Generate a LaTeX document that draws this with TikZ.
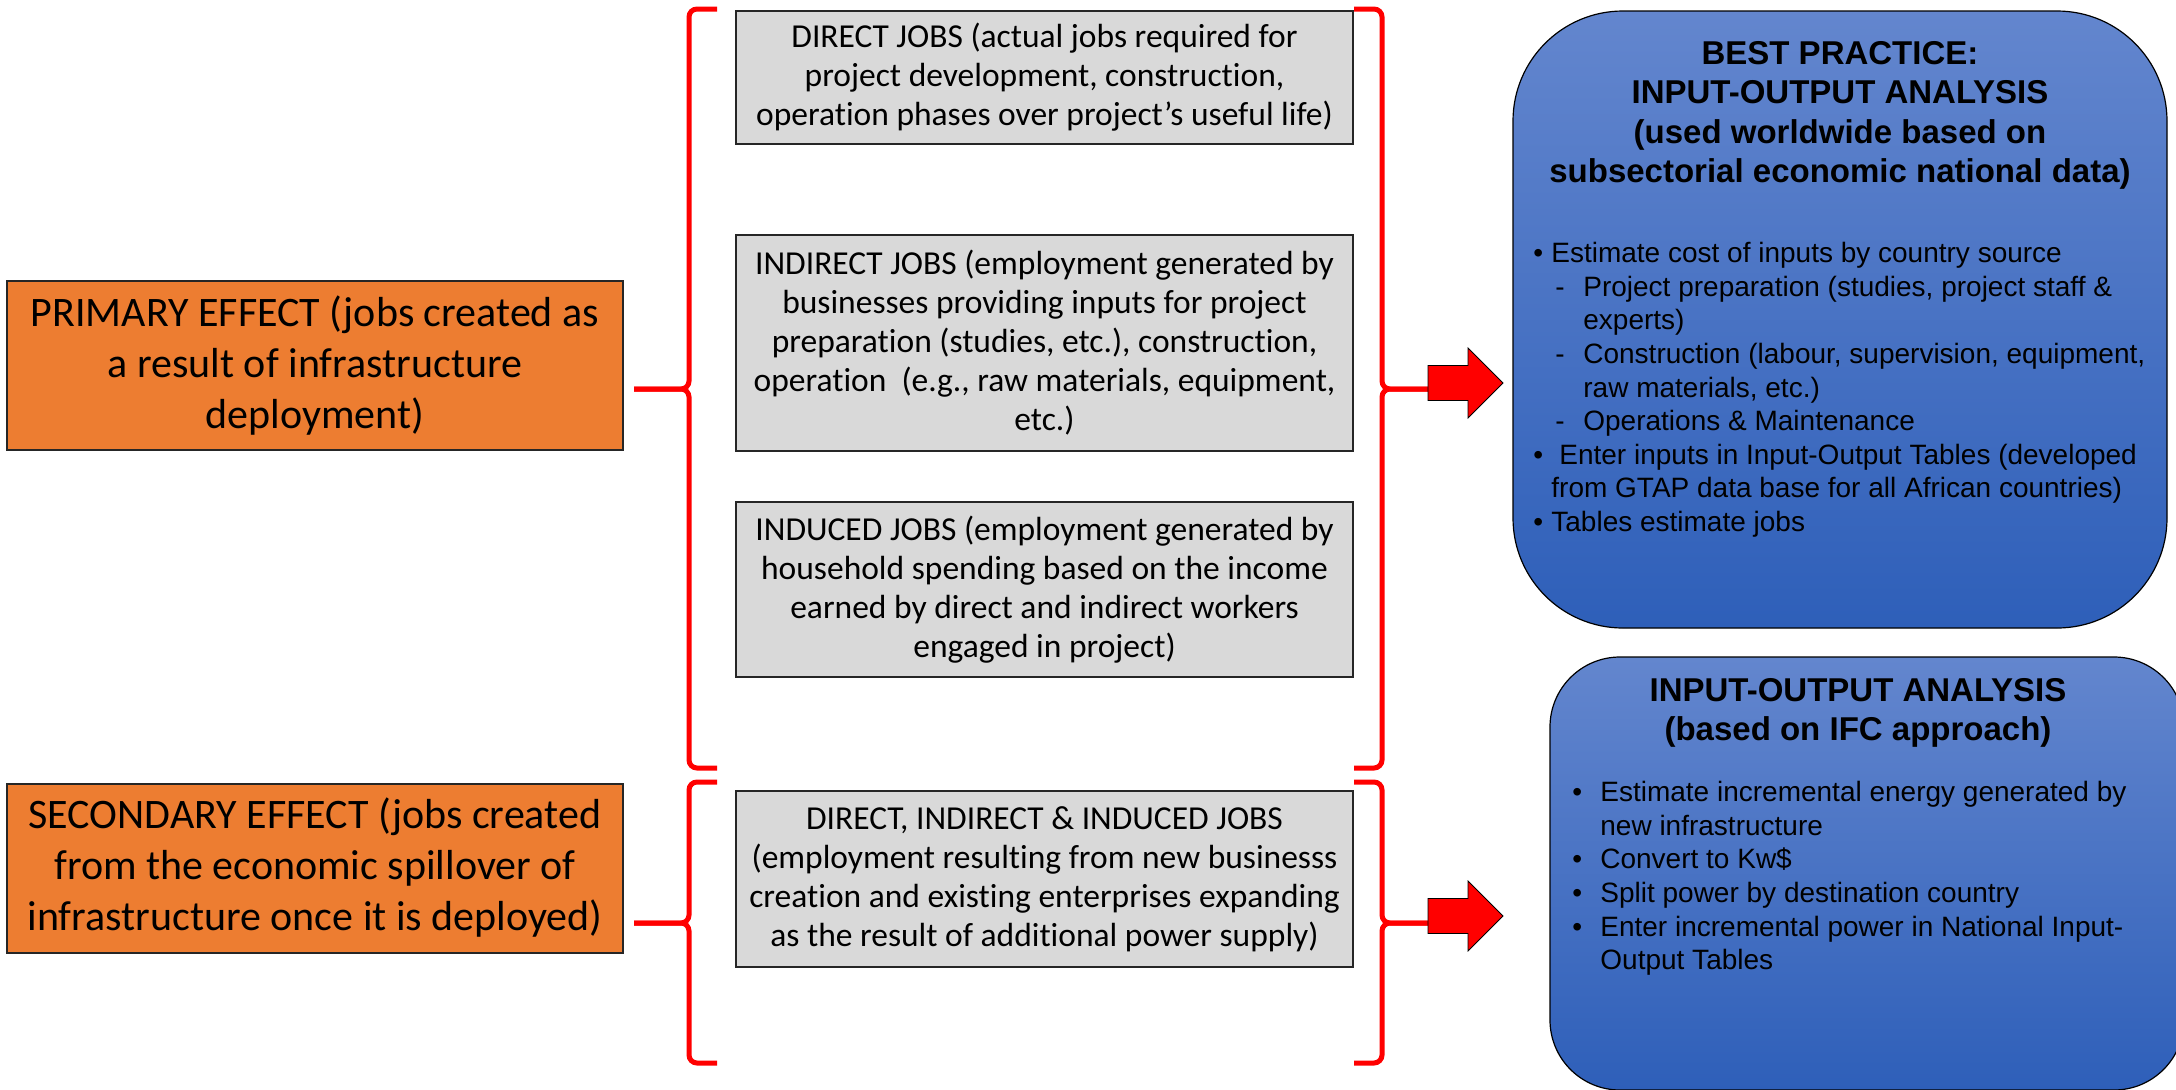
\documentclass[tikz,border=0pt]{standalone}
\usepackage{fontspec}
\setmainfont{Carlito}[Ligatures=NoCommon]
\newfontfamily\arialfont{Liberation Sans}

\definecolor{effectorange}{HTML}{ED7D31}
\definecolor{jobgray}{HTML}{D9D9D9}
\definecolor{methodblue}{HTML}{6386CE}
\definecolor{methodbluedark}{HTML}{2E5FB9}

\begin{document}
\begin{tikzpicture}[x=0.5pt, y=-0.5pt,
    effect/.style={draw=black!85, line width=1pt, fill=effectorange, align=center, minimum width=308pt, minimum height=84.5pt, inner sep=0pt, font=\fontsize{21}{25.5}\selectfont},
    jobs/.style={draw=black!85, line width=1pt, fill=jobgray, align=center, minimum width=308.5pt, inner sep=0pt, font=\fontsize{16.75}{19.5}\selectfont},
    method/.style={draw=black, line width=0.6pt, top color=methodblue, bottom color=methodbluedark, inner sep=0pt},
    heading/.style={anchor=north, align=center, inner sep=0pt, font=\arialfont\bfseries\fontsize{16.5}{19.75}\selectfont},
    steps/.style={anchor=north west, align=left, inner sep=0pt, font=\arialfont\fontsize{14}{16.8}\selectfont},
    curly/.style={draw=red, line width=2.5pt, rounded corners=4pt},
    blockarrow/.style={fill=red, draw=black, line width=0.4pt}]
    \clip (0,0) rectangle (2176,1089);

    \node[effect] (primary) at (315,365.5) {PRIMARY EFFECT (jobs created as\\a result of infrastructure\\deployment)};
    \node[effect] (secondary) at (315,868) {SECONDARY EFFECT (jobs created\\from the economic spillover of\\infrastructure once it is deployed)};

    \node[jobs, minimum height=66.5pt] (direct) at (1044.5,77.5) {DIRECT JOBS (actual jobs required for\\project development, construction,\\operation phases over project’s useful life)};
    \node[jobs, minimum height=108pt] (indirect) at (1044.5,343) {INDIRECT JOBS (employment generated by\\businesses providing inputs for project\\preparation (studies, etc.), construction,\\operation\ \ (e.g., raw materials, equipment,\\etc.)};
    \node[jobs, minimum height=87.5pt] (induced) at (1044.5,589.5) {INDUCED JOBS (employment generated by\\household spending based on the income\\earned by direct and indirect workers\\engaged in project)};
    \node[jobs, minimum height=88pt] (spillover) at (1044.5,879) {DIRECT, INDIRECT \& INDUCED JOBS\\(employment resulting from new businesss\\creation and existing enterprises expanding\\as the result of additional power supply)};

    \coordinate (primtip) at (689,389);
    \coordinate (sectip) at (689,923);
    \coordinate (jobstip) at (1382,389);
    \coordinate (spilltip) at (1382,923);

    \draw[curly] (717,9) -| (primtip) -- ([xshift=5pt]primary.east |- primtip);
    \draw[curly] ([xshift=5pt]primary.east |- primtip) -- (primtip) |- (717,768);
    \draw[curly] (717,782) -| (sectip) -- ([xshift=5pt]secondary.east |- sectip);
    \draw[curly] ([xshift=5pt]secondary.east |- sectip) -- (sectip) |- (717,1063);

    \draw[curly] (1354,9) -| (jobstip) -- (1428,389);
    \draw[curly] (1428,389) -- (jobstip) |- (1354,768);
    \draw[curly] (1354,782) -| (spilltip) -- (1428,923);
    \draw[curly] (1428,923) -- (spilltip) |- (1354,1063);

    \foreach \y in {383,916}
        \filldraw[blockarrow] (1428,\y-17.5) -- (1468,\y-17.5) -- (1468,\y-35) -- (1503,\y) -- (1468,\y+35) -- (1468,\y+17.5) -- (1428,\y+17.5) -- cycle;

    \node[method, rounded corners=55pt, minimum width=327pt, minimum height=308.5pt] (bestpractice) at (1840,319.5) {};
    \node[method, rounded corners=35pt, minimum width=317pt, minimum height=216.5pt] (ifc) at (1867,873.5) {};

    \node[heading] (bptitle) at (1840,41) {BEST PRACTICE:\\INPUT-OUTPUT ANALYSIS\\(used worldwide based on\\subsectorial economic national data)};
    \node[steps] (bpsteps) at (1533,242) {%
        \makebox[9pt][l]{•}Estimate cost of inputs by country source\\
        \hspace*{11pt}\makebox[14pt][l]{-}Project preparation (studies, project staff \&\\
        \hspace*{25pt}experts)\\
        \hspace*{11pt}\makebox[14pt][l]{-}Construction (labour, supervision, equipment,\\
        \hspace*{25pt}raw materials, etc.)\\
        \hspace*{11pt}\makebox[14pt][l]{-}Operations \& Maintenance\\
        \makebox[13pt][l]{•}Enter inputs in Input-Output Tables (developed\\
        \hspace*{9pt}from GTAP data base for all African countries)\\
        \makebox[9pt][l]{•}Tables estimate jobs};

    \node[heading] (ifctitle) at (1858,678) {INPUT-OUTPUT ANALYSIS\\(based on IFC approach)};
    \node[steps] (ifcsteps) at (1572,781) {%
        \makebox[14pt][l]{•}Estimate incremental energy generated by\\
        \hspace*{14pt}new infrastructure\\
        \makebox[14pt][l]{•}Convert to Kw\$\\
        \makebox[14pt][l]{•}Split power by destination country\\
        \makebox[14pt][l]{•}Enter incremental power in National Input-\\
        \hspace*{14pt}Output Tables};
\end{tikzpicture}
\end{document}
